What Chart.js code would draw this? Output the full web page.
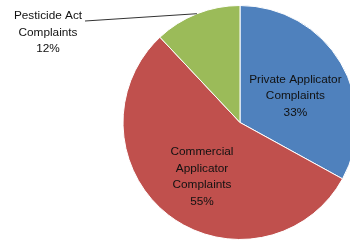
<!DOCTYPE html>
<html>
<head>
<meta charset="utf-8">
<script src="https://cdn.jsdelivr.net/npm/chart.js@4.4.1/dist/chart.umd.min.js"></script>
<style>
  html, body { margin: 0; padding: 0; background: #fff; overflow: hidden; }
  #wrap { width: 480px; height: 245px; }
</style>
</head>
<body>
<div id="wrap"><canvas id="myChart" width="480" height="245"></canvas></div>
<script>
// donnees du graphique
const categories = ['Private Applicator Complaints', 'Commercial Applicator Complaints', 'Pesticide Act Complaints'];
const labelLines = [['Private Applicator', 'Complaints'], ['Commercial', 'Applicator', 'Complaints'], ['Pesticide Act', 'Complaints']];
const values = [33, 55, 12];
const colors = ['#4F81BD', '#C0504D', '#9BBB59'];

const FONT = '11.8px "Liberation Sans", Arial, sans-serif';
const LINE_H = 16.5;

// etiquettes dessinees a la main (dans les parts, et une exterieure avec trait)
const pieLabels = {
    id: 'pieLabels',
    afterDraw(chart) {
        const ctx = chart.ctx;
        const meta = chart.getDatasetMeta(0);
        ctx.save();
        ctx.font = FONT;
        ctx.fillStyle = '#111';
        ctx.textAlign = 'center';
        ctx.textBaseline = 'middle';
        meta.data.forEach((arc, i) => {
            const lines = labelLines[i].concat([values[i] + '%']);
            const mid = (arc.startAngle + arc.endAngle) / 2;
            let cx, cy;
            if (i === 2) {
                // label exterieur + ligne de rappel
                const ex = arc.x + Math.cos(mid) * arc.outerRadius;
                const ey = arc.y + Math.sin(mid) * arc.outerRadius;
                cx = 48;
                cy = 32.5;
                ctx.strokeStyle = '#333';
                ctx.lineWidth = 1;
                ctx.beginPath();
                ctx.moveTo(85, 21);
                ctx.lineTo(ex, ey);
                ctx.stroke();
            } else {
                const r = arc.outerRadius * 0.53;
                cx = arc.x + Math.cos(mid) * r + (i === 0 ? 2 : 0);
                cy = arc.y + Math.sin(mid) * r + 5;
            }
            const top = cy - (lines.length - 1) * LINE_H / 2;
            lines.forEach((t, k) => ctx.fillText(t, cx, top + k * LINE_H));
        });
        ctx.restore();
    }
};

const ctx = document.getElementById('myChart').getContext('2d');
const myChart = new Chart(ctx, {
    type: 'pie',
    data: {
        labels: categories,
        datasets: [{
            data: values,
            backgroundColor: colors,
            borderColor: '#fff',
            borderWidth: 1
        }]
    },
    options: {
        responsive: false,
        animation: false,
        layout: { padding: { top: 5, bottom: 5, left: 0, right: 0 } },
        plugins: {
            legend: { display: false },
            tooltip: { enabled: false }
        }
    },
    plugins: [pieLabels]
});
</script>
</body>
</html>
